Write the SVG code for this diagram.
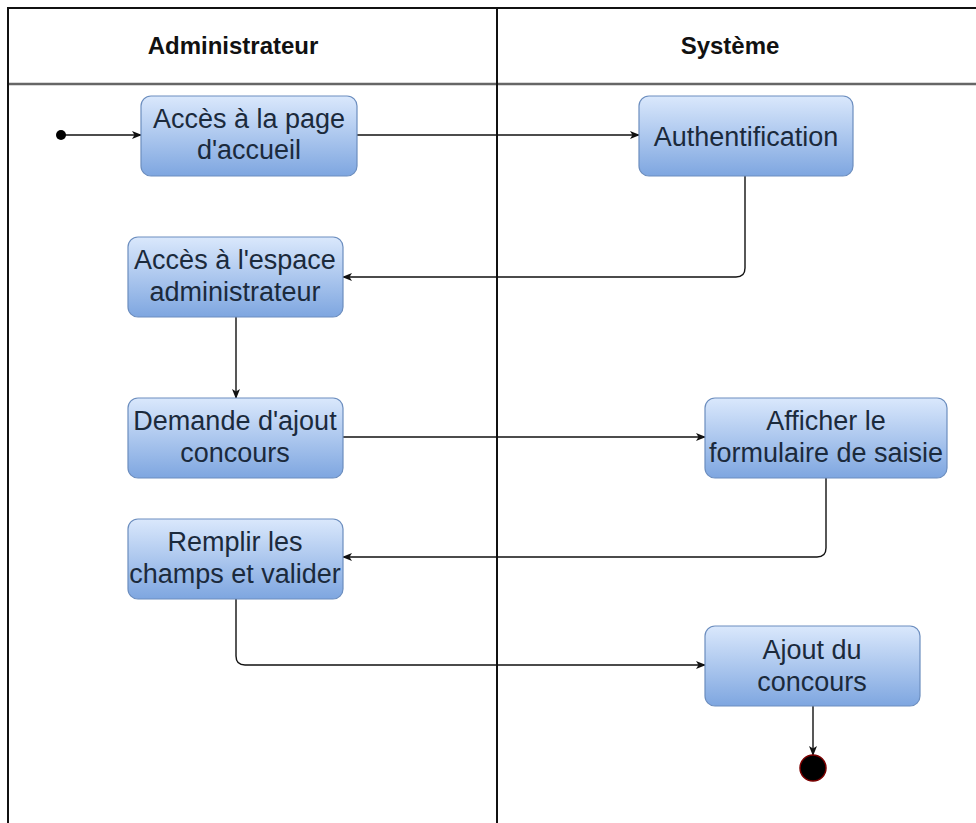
<svg xmlns="http://www.w3.org/2000/svg" width="976" height="823" viewBox="0 0 976 823">
  <defs>
    <linearGradient id="nodeFill" x1="0" y1="0" x2="0" y2="1">
      <stop offset="0" stop-color="#dae8fc"/>
      <stop offset="1" stop-color="#7ea6e0"/>
    </linearGradient>
    <marker id="arrow" viewBox="0 0 10 10" refX="9" refY="5" markerWidth="10" markerHeight="10" markerUnits="userSpaceOnUse" orient="auto">
      <path d="M0,1 L10,5 L0,9 L2.5,5 Z" fill="#111"/>
    </marker>
    <style>
      .lane { fill: none; stroke: #111; stroke-width: 2; }
      .sep { fill: none; stroke: #666; stroke-width: 2.5; }
      .head { font-family: "Liberation Sans", Arial, sans-serif; font-size: 24px; font-weight: bold; fill: #111; text-anchor: middle; }
      .box { fill: url(#nodeFill); stroke: #6c8ebf; stroke-width: 1.2; }
      .label { font-family: "Liberation Sans", Arial, sans-serif; font-size: 27px; fill: #1b2a3c; text-anchor: middle; }
      .edge { fill: none; stroke: #111; stroke-width: 1.4; marker-end: url(#arrow); }
    </style>
  </defs>

  <rect width="976" height="823" fill="#ffffff"/>

  <!-- swimlanes -->
  <g id="lanes">
    <line class="sep" x1="8" y1="84" x2="976" y2="84"/>
    <path class="lane" d="M8,823 V8 H976"/>
    <line class="lane" x1="497" y1="8" x2="497" y2="823"/>
    <text class="head" x="233" y="54">Administrateur</text>
    <text class="head" x="730" y="54">Système</text>
  </g>

  <!-- connectors -->
  <g id="edges">
    <line class="edge" x1="61" y1="135" x2="141" y2="135"/>
    <line class="edge" x1="357" y1="135" x2="639" y2="135"/>
    <path class="edge" d="M745,176 V268 Q745,277 736,277 H343"/>
    <line class="edge" x1="236" y1="317" x2="236" y2="398"/>
    <line class="edge" x1="343" y1="437" x2="705" y2="437"/>
    <path class="edge" d="M826,478 V548 Q826,557 817,557 H343"/>
    <path class="edge" d="M236,599 V656 Q236,665 245,665 H705"/>
    <line class="edge" x1="813" y1="706" x2="813" y2="755"/>
  </g>

  <!-- start -->
  <g id="start">
    <circle cx="61" cy="135" r="5" fill="#000"/>
  </g>

  <g id="n1">
    <rect class="box" x="141" y="96" width="216" height="80" rx="10"/>
    <text class="label" x="249" y="128">Accès à la page</text>
    <text class="label" x="249" y="159">d'accueil</text>
  </g>

  <g id="n2">
    <rect class="box" x="639" y="96" width="214" height="80" rx="10"/>
    <text class="label" x="746" y="146">Authentification</text>
  </g>

  <g id="n3">
    <rect class="box" x="128" y="237" width="215" height="80" rx="10"/>
    <text class="label" x="235" y="269">Accès à l'espace</text>
    <text class="label" x="235" y="301">administrateur</text>
  </g>

  <g id="n4">
    <rect class="box" x="128" y="398" width="215" height="80" rx="10"/>
    <text class="label" x="235" y="430">Demande d'ajout</text>
    <text class="label" x="235" y="462">concours</text>
  </g>

  <g id="n5">
    <rect class="box" x="705" y="398" width="242" height="80" rx="10"/>
    <text class="label" x="826" y="430">Afficher le</text>
    <text class="label" x="826" y="462">formulaire de saisie</text>
  </g>

  <g id="n6">
    <rect class="box" x="128" y="519" width="215" height="80" rx="10"/>
    <text class="label" x="235" y="551">Remplir les</text>
    <text class="label" x="235" y="583">champs et valider</text>
  </g>

  <g id="n7">
    <rect class="box" x="705" y="626" width="215" height="80" rx="10"/>
    <text class="label" x="812" y="659">Ajout du</text>
    <text class="label" x="812" y="691">concours</text>
  </g>

  <!-- end -->
  <g id="end">
    <circle cx="813" cy="768" r="13" fill="#000" stroke="#7a0000" stroke-width="1.5"/>
  </g>
</svg>
